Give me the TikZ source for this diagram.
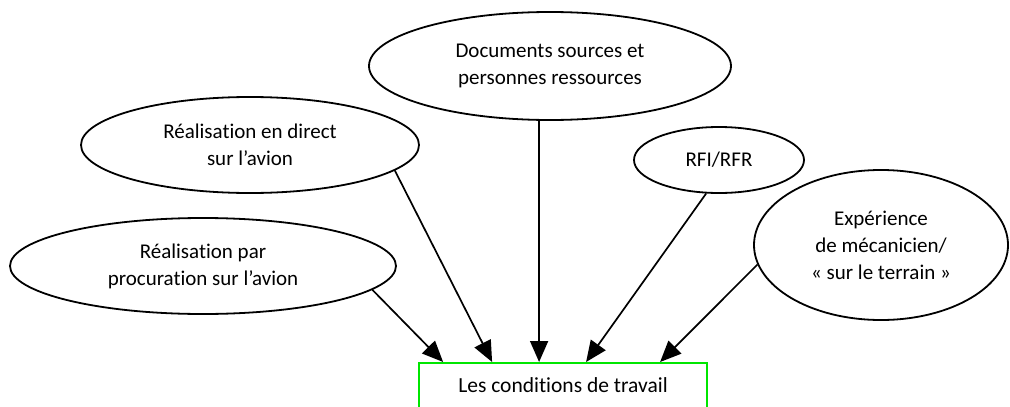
\documentclass[tikz,border=0pt]{standalone}
\usepackage{fontspec}
\setmainfont{Carlito}[RawFeature=-liga]
\usetikzlibrary{shapes.geometric,arrows.meta,calc}
\definecolor{boxgreen}{HTML}{00E600}
\tikzset{
  bubble/.style={ellipse, draw=black, line width=1.8pt, inner sep=0pt,
    align=center, font=\fontsize{21}{27}\selectfont},
  link/.style={line width=1.7pt, -{Triangle[length=21pt,width=18pt]}},
  target/.style={rectangle, draw=boxgreen, line width=1.8pt,
    minimum width=288pt, minimum height=70pt, anchor=north, inner sep=0pt},
  caption/.style={font=\fontsize{21.5}{27}\selectfont}
}
\begin{document}
\begin{tikzpicture}[x=1pt,y=-1pt]
  \useasboundingbox (0,0) rectangle (1010,407);
  \clip (0,0) rectangle (1010,407);

  % sources
  \node[bubble, minimum width=362pt, minimum height=108pt] (docs) at (550,66)
    {Documents sources et\\personnes ressources};
  \node[bubble, minimum width=338pt, minimum height=96pt] (direct) at (250,145)
    {Réalisation en direct\\sur l’avion};
  \node[bubble, minimum width=386pt, minimum height=96pt] (proxy) at (203,266)
    {Réalisation par\\procuration sur l’avion};
  \node[bubble, minimum width=170pt, minimum height=66pt] (rfi) at (719,160)
    {RFI/RFR};
  \node[bubble, minimum width=254pt, minimum height=150pt] (exp) at (881,245)
    {Expérience\\de mécanicien/\\« sur le terrain »};

  % destination
  \node[target] (cond) at (563,362) {};
  \node[caption] (condtxt) at (563,385) {Les conditions de travail};

  % arrow tips along the top edge of the box
  \coordinate (t1) at ($(cond.north west)+(25,0)$);
  \coordinate (t2) at ($(cond.north west)+(74,0)$);
  \coordinate (t3) at ($(cond.north west)+(121,0)$);
  \coordinate (t4) at ($(cond.north west)+(168,0)$);
  \coordinate (t5) at ($(cond.north west)+(242,0)$);

  \draw[link] (proxy.-8) -- (t1);
  \draw[link] (direct.-10.1) -- (t2);
  \draw[link] (t3 |- docs.south) -- (t3);
  \draw[link] (rfi.-111) -- (t4);
  \draw[link] (exp.-171.9) -- (t5);
\end{tikzpicture}
\end{document}
